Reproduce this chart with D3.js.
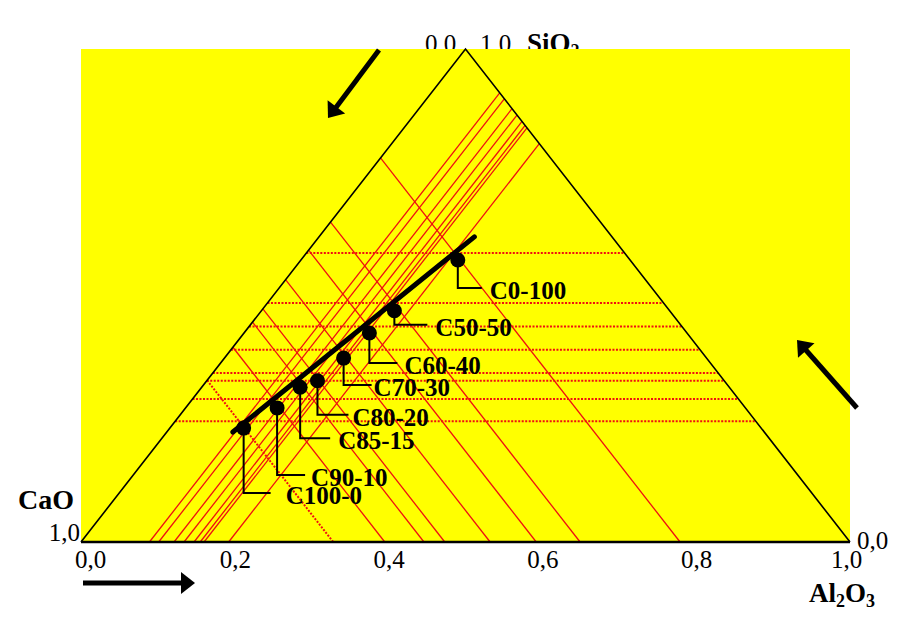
<!DOCTYPE html>
<html>
<head>
<meta charset="utf-8">
<script src="https://cdn.jsdelivr.net/npm/d3@7"></script>
<style>
  body { margin: 0; background: #fff; }
  svg { display: block; }
</style>
</head>
<body>
<div id="d1"></div>
<script>
// sample names
const samples = ["C0-100", "C50-50", "C60-40", "C70-30", "C80-20", "C85-15", "C90-10", "C100-0"];

// nominal compositions (red guide lines)
const gridCaO   = [0.221, 0.351, 0.408, 0.468, 0.527, 0.554, 0.605, 0.672];
const gridAl2O3 = [0.192, 0.160, 0.155, 0.147, 0.134, 0.121, 0.101, 0.089];
const gridSiO2  = [0.586, 0.485, 0.437, 0.390, 0.343, 0.327, 0.290, 0.245];

// plotted markers
const markCaO   = [0.224, 0.359, 0.414, 0.472, 0.530, 0.558, 0.609, 0.672];
const markAl2O3 = [0.204, 0.173, 0.163, 0.155, 0.144, 0.128, 0.119, 0.096];
const markSiO2  = [0.572, 0.469, 0.424, 0.373, 0.327, 0.314, 0.272, 0.231];

// thick trend line, start and end
const trendAl2O3 = [0.086, 0.202];
const trendSiO2  = [0.223, 0.619];

const ticks = [0, 0.2, 0.4, 0.6, 0.8, 1.0];

// label leader layout: [drop, run, gap]
const leader = [[28, 24, 8], [14, 33, 8], [30, 28, 7], [27, 28, 2], [34, 31, 4], [51, 30, 8], [67, 28, 6], [65, 27, 15]];

const width = 906, height = 625;
const margin = ({ top: 49, right: 56, bottom: 83, left: 81 });

const x = d3.scaleLinear().domain([0, 1]).range([margin.left, width - margin.right]);
const y = d3.scaleLinear().domain([0, 1]).range([height - margin.bottom, margin.top]);

// ternary -> screen (Al2O3 to the right, SiO2 up)
const px = (a, s) => x(a + s / 2);
const py = (a, s) => y(s);

const fmt = d3.formatLocale({ decimal: ",", thousands: "", grouping: [3], currency: ["", ""] }).format(".1f");
const serif = "'Liberation Serif', 'Times New Roman', serif";
const red = "#ee1010";

const svg = d3.select("#d1").append("svg")
    .attr("width", width)
    .attr("height", height)
    .attr("viewBox", [0, 0, width, height])
    .attr("font-family", serif);

// apex labels (partly hidden under the plot area)
const apexLabel = svg.append("text").attr("y", 52).attr("font-size", 25);
apexLabel.append("tspan").attr("x", 425).text("0,0");
apexLabel.append("tspan").attr("x", 480).text("1,0");
const sio = svg.append("text").attr("x", 527).attr("y", 52)
    .attr("font-size", 27).attr("font-weight", "bold");
sio.append("tspan").text("SiO");
sio.append("tspan").attr("font-size", 18).attr("dy", 5).text("2");

// plot area
svg.append("rect")
    .attr("x", x(0)).attr("y", y(1))
    .attr("width", x(1) - x(0)).attr("height", y(0) - y(1))
    .attr("fill", "#ffff00");

// guide lines
const guides = svg.append("g").attr("stroke", red).attr("fill", "none");

// constant Al2O3 (parallel to left side)
guides.append("g").selectAll("line")
    .data(gridAl2O3)
    .join("line")
    .attr("x1", a => px(a, 0)).attr("y1", a => py(a, 0))
    .attr("x2", a => px(a, 1 - a)).attr("y2", a => py(a, 1 - a))
    .attr("stroke-width", 1.3);

// constant CaO (parallel to right side)
guides.append("g").selectAll("line")
    .data(gridCaO)
    .join("line")
    .attr("x1", c => px(0, 1 - c)).attr("y1", c => py(0, 1 - c))
    .attr("x2", c => px(1 - c, 0)).attr("y2", c => py(1 - c, 0))
    .attr("stroke-width", (c, i) => i === gridCaO.length - 1 ? 2 : 1.3)
    .attr("stroke-dasharray", (c, i) => i === gridCaO.length - 1 ? "2,1.5" : null);

// constant SiO2 (horizontal, dotted)
guides.append("g").selectAll("line")
    .data(gridSiO2)
    .join("line")
    .attr("x1", s => px(0, s)).attr("y1", s => py(0, s))
    .attr("x2", s => px(1 - s, s)).attr("y2", s => py(1 - s, s))
    .attr("stroke-width", 2)
    .attr("stroke-dasharray", "2,1.5");

// triangle
svg.append("path")
    .attr("d", d3.line()([[px(0, 0), py(0, 0)], [px(0, 1), py(0, 1)], [px(1, 0), py(1, 0)]]))
    .attr("fill", "none").attr("stroke", "#000").attr("stroke-width", 1.6);
svg.append("line")
    .attr("x1", x(0)).attr("x2", x(1)).attr("y1", y(0)).attr("y2", y(0))
    .attr("stroke", "#000").attr("stroke-width", 2.6);

// trend line
svg.append("path")
    .datum(d3.zip(trendAl2O3, trendSiO2))
    .attr("d", d3.line().x(d => px(d[0], d[1])).y(d => py(d[0], d[1])))
    .attr("stroke", "#000").attr("stroke-width", 5).attr("stroke-linecap", "round");

// markers + leaders + labels
const pts = samples.map((name, i) => ({
    name,
    cx: px(markAl2O3[i], markSiO2[i]),
    cy: py(markAl2O3[i], markSiO2[i]),
    l: leader[i]
}));

svg.append("g")
    .attr("fill", "none").attr("stroke", "#000").attr("stroke-width", 2)
    .selectAll("path")
    .data(pts)
    .join("path")
    .attr("d", d => `M${d.cx},${d.cy}V${d.cy + d.l[0]}H${d.cx + d.l[1]}`);

svg.append("g")
    .selectAll("circle")
    .data(pts)
    .join("circle")
    .attr("cx", d => d.cx).attr("cy", d => d.cy)
    .attr("r", 7.5).attr("fill", "#000");

svg.append("g")
    .attr("font-size", 25).attr("font-weight", "bold")
    .selectAll("text")
    .data(pts)
    .join("text")
    .attr("x", d => d.cx + d.l[1] + d.l[2])
    .attr("y", d => d.cy + d.l[0] + 11)
    .text(d => d.name);

// bottom axis
const xAxis = g => g
    .attr("transform", `translate(0,${y(0)})`)
    .call(d3.axisBottom(x).tickValues(ticks).tickSize(0).tickFormat(fmt))
    .call(g => g.select(".domain").remove())
    .call(g => g.selectAll("text")
        .attr("font-family", serif).attr("font-size", 25).attr("fill", "#000")
        .attr("y", 8)
        .attr("dx", d => d === 0 ? 9 : d === 1 ? -4 : 0));
svg.append("g").call(xAxis);

// corner labels
svg.append("text").attr("x", 80).attr("y", 541).attr("text-anchor", "end")
    .attr("font-size", 25).text("1,0");
svg.append("text").attr("x", 857).attr("y", 549)
    .attr("font-size", 25).text("0,0");
svg.append("text").attr("x", 18).attr("y", 509)
    .attr("font-size", 28).attr("font-weight", "bold").text("CaO");

const al = svg.append("text").attr("x", 809).attr("y", 602)
    .attr("font-size", 27).attr("font-weight", "bold");
al.append("tspan").text("Al");
al.append("tspan").attr("font-size", 18).attr("dy", 5).text("2");
al.append("tspan").attr("dy", -5).text("O");
al.append("tspan").attr("font-size", 18).attr("dy", 5).text("3");

// direction arrows
function arrow(x1, y1, x2, y2) {
    const dx = x2 - x1, dy = y2 - y1, len = Math.hypot(dx, dy);
    const ux = dx / len, uy = dy / len;
    const hl = 14, hw = 11;
    const bx = x2 - ux * hl, by = y2 - uy * hl;
    const g = svg.append("g");
    g.append("line")
        .attr("x1", x1).attr("y1", y1).attr("x2", bx + ux * 2).attr("y2", by + uy * 2)
        .attr("stroke", "#000").attr("stroke-width", 5);
    g.append("path")
        .attr("d", `M${x2},${y2}L${bx - uy * hw},${by + ux * hw}L${bx + uy * hw},${by - ux * hw}Z`)
        .attr("fill", "#000");
}
arrow(83, 583, 195, 583);
arrow(379, 50, 328, 118);
arrow(857, 408, 797, 340);
</script>
</body>
</html>
